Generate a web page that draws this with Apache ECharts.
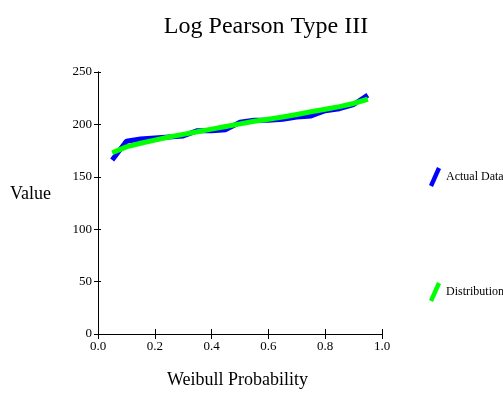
<!DOCTYPE html>
<html><head><meta charset="utf-8">
<script src="https://cdn.jsdelivr.net/npm/echarts@6/dist/echarts.min.js"></script>
<style>html,body{margin:0;padding:0;background:#fff}#c{width:503px;height:394px}</style>
</head><body><div id="c"></div>
<script>
const probs = [0.05,0.10,0.15,0.20,0.25,0.30,0.35,0.40,0.45,0.50,0.55,0.60,0.65,0.70,0.75,0.80,0.85,0.90,0.95];
const actualData = [166,184,186,187,188,189,194,194,195,202,204,204,205,207,208,213,215,219,228];
const distribution = [173,178.5,182,185,188,190.5,193,195.5,198,200.5,203,205,207,209.5,212,214.5,217,220,224];
const font = '"Liberation Serif","Times New Roman",serif';
const chart = echarts.init(document.getElementById('c'));
const pair = (xs, ys) => xs.map((x,i)=>[x, ys[i]]);
const axCommon = {
  axisLine:{show:true,lineStyle:{color:'#000',width:1}},
  splitLine:{show:false}
};
const icon = 'path://M8,0 L12,2 L4,20 L0,18 Z';
chart.setOption({
  animation:false,
  title:{text:'Log Pearson Type III',left:261,top:10,textAlign:'center',
    textStyle:{fontFamily:font,fontSize:24,fontWeight:'normal',color:'#000'}},
  grid:{left:98,right:121,top:72,bottom:60},
  legend:[
    {data:['Actual Data'],left:424,top:162,icon:icon,itemWidth:12,itemHeight:20,
     textStyle:{fontFamily:font,fontSize:12,color:'#000'}},
    {data:['Distribution'],left:424,top:277,icon:icon,itemWidth:12,itemHeight:20,
     textStyle:{fontFamily:font,fontSize:12,color:'#000'}}
  ],
  graphic:[
    {type:'text',left:10,top:185,style:{text:'Value',font:'18px '+font,fill:'#000'}},
    {type:'text',left:167,top:371,style:{text:'Weibull Probability',font:'18px '+font,fill:'#000'}}
  ],
  xAxis:[
    Object.assign({type:'value',min:0,max:1,interval:0.2,
      axisTick:{show:true,length:5,lineStyle:{color:'#000'}},
      axisLabel:{fontFamily:font,fontSize:13,color:'#000',margin:6,formatter:v=>v.toFixed(1)}},axCommon),
    Object.assign({type:'value',min:0,max:1,interval:0.2,position:'bottom',
      axisTick:{show:true,inside:true,length:5,lineStyle:{color:'#000'}},
      axisLabel:{show:false}},axCommon)
  ],
  yAxis:[
    Object.assign({type:'value',min:0,max:250,interval:50,
      axisTick:{show:true,length:4,lineStyle:{color:'#000'}},
      axisLabel:{fontFamily:font,fontSize:13,color:'#000',margin:6}},axCommon),
    Object.assign({type:'value',min:0,max:250,interval:50,position:'left',
      axisTick:{show:true,inside:true,length:3,lineStyle:{color:'#000'}},
      axisLabel:{show:false}},axCommon)
  ],
  series:[
    {name:'Actual Data',type:'line',data:pair(probs,actualData),showSymbol:false,symbol:'none',
     itemStyle:{color:'#0000ff'},lineStyle:{color:'#0000ff',width:5},z:2},
    {name:'Distribution',type:'line',data:pair(probs,distribution),showSymbol:false,symbol:'none',
     itemStyle:{color:'#00ff00'},lineStyle:{color:'#00ff00',width:5},z:3}
  ]
});
</script></body></html>
